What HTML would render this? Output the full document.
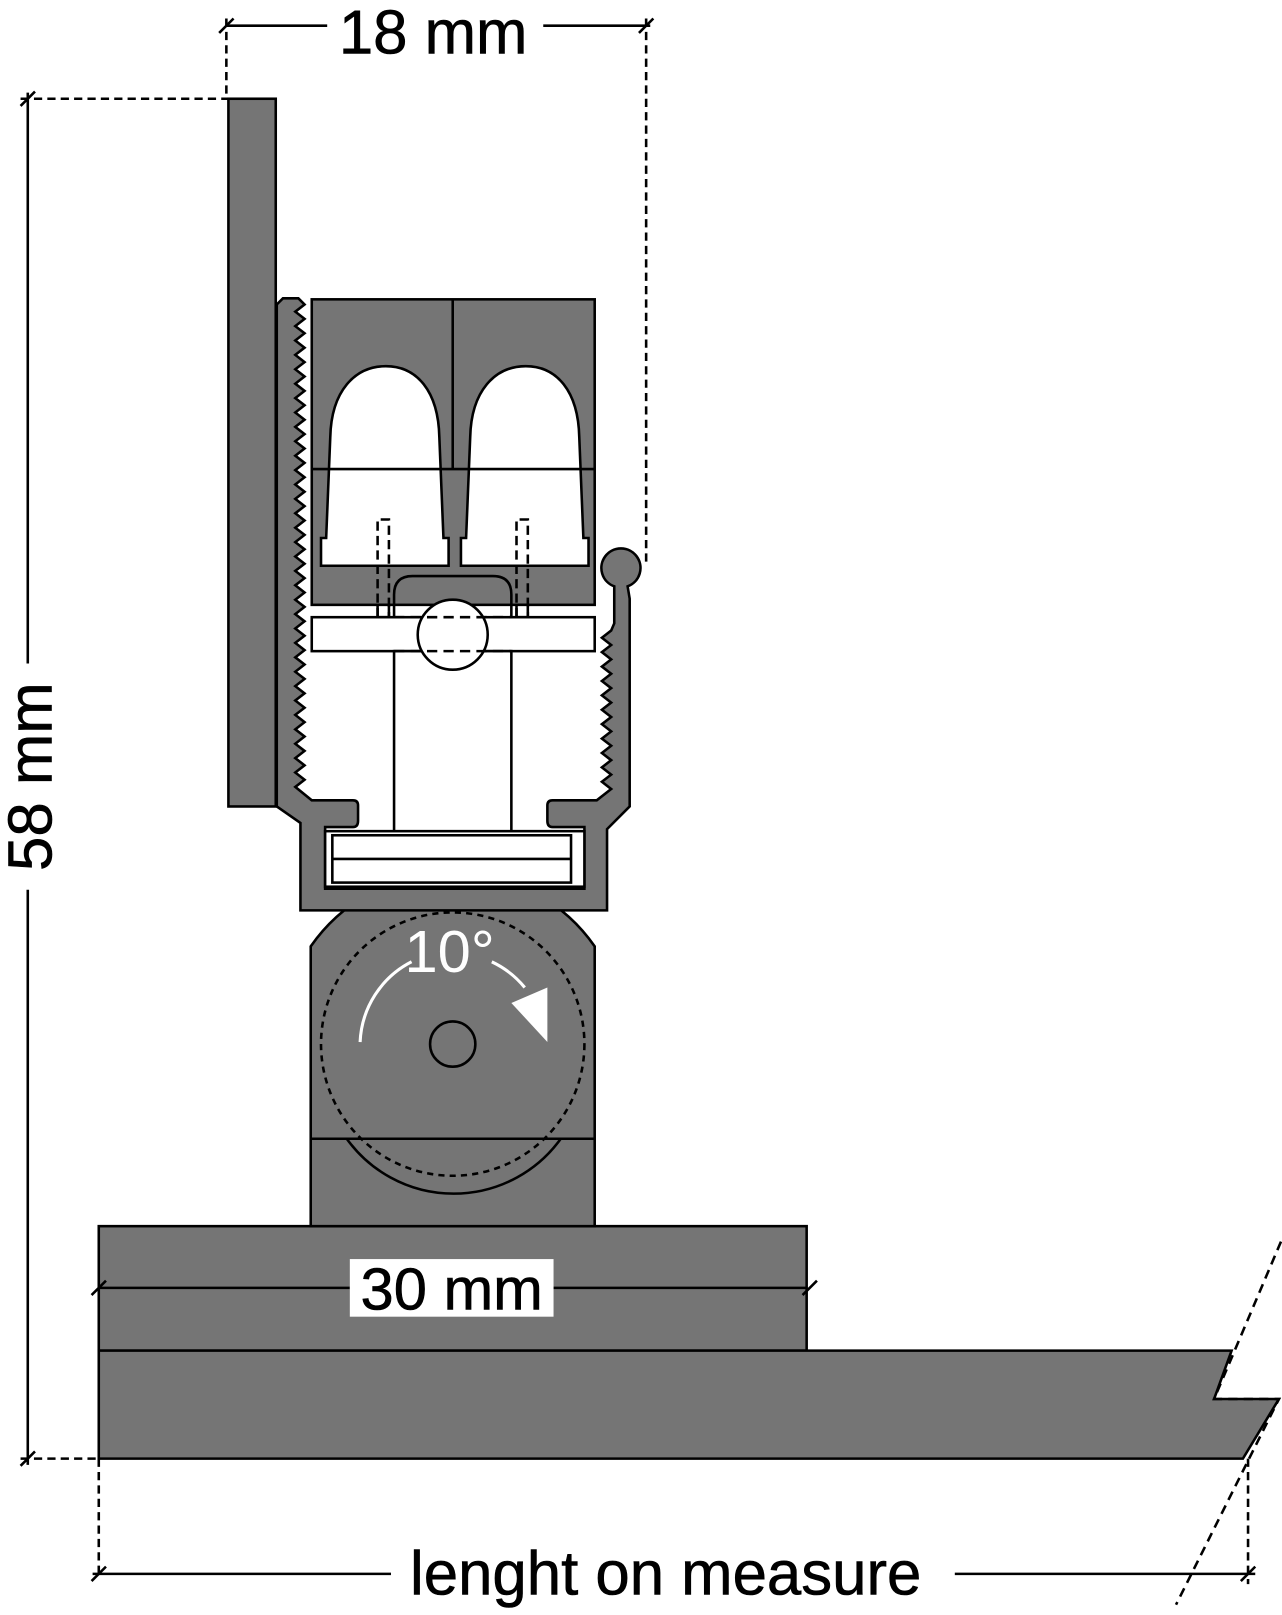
<!DOCTYPE html>
<html><head><meta charset="utf-8"><style>
html,body{margin:0;padding:0;background:#fff}
svg{display:block}
text{font-family:"Liberation Sans",Arial,sans-serif}
</style></head><body>
<svg width="1282" height="1615" viewBox="0 0 1246 1570" preserveAspectRatio="none" xmlns="http://www.w3.org/2000/svg">
<g stroke="#000" stroke-width="2.5" fill="none">
<line x1="220" y1="25" x2="318" y2="25"/><line x1="528" y1="25" x2="632" y2="25"/>
<line x1="213" y1="32" x2="227" y2="18"/><line x1="621" y1="32" x2="635" y2="18"/>
<line x1="220" y1="18" x2="220" y2="96" stroke-dasharray="8,5"/>
<line x1="628" y1="18" x2="628" y2="548" stroke-dasharray="8,5"/>
<line x1="27" y1="90" x2="27" y2="645"/><line x1="27" y1="865" x2="27" y2="1424"/>
<line x1="20" y1="103" x2="34" y2="89"/><line x1="20" y1="1425" x2="34" y2="1411"/>
<line x1="20" y1="96" x2="222" y2="96" stroke-dasharray="8,5"/>
<line x1="20" y1="1418" x2="96" y2="1418" stroke-dasharray="8,5"/>
<line x1="90" y1="1530" x2="380" y2="1530"/><line x1="928" y1="1530" x2="1220" y2="1530"/>
<line x1="89" y1="1537" x2="103" y2="1523"/><line x1="1206" y1="1537" x2="1220" y2="1523"/>
<line x1="96" y1="1418" x2="96" y2="1535" stroke-dasharray="8,5"/>
<line x1="1213" y1="1418" x2="1213" y2="1540" stroke-dasharray="8,5"/>
</g>
<text x="421" y="52" font-size="60" text-anchor="middle" stroke="#000" stroke-width="0.6">18 mm</text>
<text transform="translate(50,755) rotate(-90)" font-size="60" text-anchor="middle" stroke="#000" stroke-width="0.6">58 mm</text>
<text x="647" y="1550" font-size="60" text-anchor="middle" stroke="#000" stroke-width="0.6">lenght on measure</text>

<g stroke="#000" stroke-width="2.5" fill="#757575">
<rect x="222" y="96" width="46" height="688"/>
<rect x="96" y="1192" width="688" height="121"/>
<path d="M96,1313 L1197,1313 L1180,1360 L1243,1360 L1208,1418 L96,1418 Z"/>
<path d="M302,1192 L302,920 A168,168 0 0 1 578,920 L578,1192 Z"/>
<rect x="303" y="291" width="275" height="297"/>
<path d="M269,296 L275,290 L290,290 L296,296
L287,303 L296,310 L287,317 L296,324 L287,331 L296,338 L287,345 L296,352 L287,359 L296,366 L287,373 L296,380 L287,387 L296,394 L287,401 L296,408 L287,415 L296,422 L287,429 L296,436 L287,443 L296,450 L287,457 L296,464 L287,471 L296,478 L287,485 L296,492 L287,499 L296,506 L287,513 L296,520 L287,527 L296,534 L287,541 L296,548 L287,555 L296,562 L287,569 L296,576 L287,583 L296,590 L287,597 L296,604 L287,611 L296,618 L287,625 L296,632 L287,639 L296,646 L287,653 L296,660 L287,667 L296,674 L287,681 L296,688 L287,695 L296,702 L287,709 L296,716 L287,723 L296,730 L287,737 L296,744 L287,751 L296,758 L287,765
L303,778 L343,778 Q348,778 348,783 L348,798 Q348,804 343,804 L316,804 L316,864 L568,864 L568,804 L537,804 Q532,804 532,798 L532,783 Q532,778 537,778 L580,778 L594,767
L585,760 L594,753 L585,746 L594,739 L585,732 L594,725 L585,718 L594,711 L585,704 L594,697 L585,690 L594,683 L585,676 L594,669 L585,662 L594,655 L585,648 L594,641 L585,634 L594,627 L585,620 L594,613
L597,606 L597,570 A19,19 0 1 1 610,570 L612,582 L612,784 L590,806 L590,885 L292,885 L292,800 L269,784 Z"/>
</g>
<g stroke="#000" stroke-width="2.5" fill="#fff">
<path d="M312,550 L312,523 L317,523 L321,425 C322,380 345,356 375,356 C405,356 426,380 427,425 L431,523 L436,523 L436,550 Z"/>
<path d="M448,550 L448,523 L453,523 L457,425 C458,380 481,356 511,356 C541,356 562,380 563,425 L567,523 L572,523 L572,550 Z"/>
<rect x="367" y="588" width="11" height="12"/><rect x="502" y="588" width="11" height="12"/>
<rect x="303" y="600" width="275" height="33"/>
<rect x="383" y="633" width="114" height="177"/>
<circle cx="440" cy="617" r="34"/>
<rect x="316" y="808" width="252" height="54"/>
<rect x="323" y="812" width="232" height="46"/>
</g>
<g stroke="#000" stroke-width="2.5" fill="none">
<line x1="440" y1="291" x2="440" y2="456"/>
<line x1="303" y1="456" x2="578" y2="456"/>
<path d="M383,600 L383,578 Q383,560 401,560 L479,560 Q497,560 497,578 L497,600"/>
<path d="M367,600 L367,505 L378,505 L378,600 M502,600 L502,505 L513,505 L513,600" stroke-dasharray="9,5"/>
<path d="M383,600 L497,600 M383,633 L497,633" stroke-dasharray="10,6"/>
<line x1="323" y1="835" x2="555" y2="835"/>
<line x1="302" y1="1107" x2="578" y2="1107"/>
<path d="M337,1107 A128,128 0 0 0 545,1107"/>
<circle cx="440" cy="1015" r="128" stroke-dasharray="6,5"/>
<circle cx="440" cy="1015" r="22"/>
<line x1="96" y1="1252" x2="340" y2="1252"/><line x1="538" y1="1252" x2="784" y2="1252"/>
<line x1="89" y1="1259" x2="103" y2="1245"/><line x1="780" y1="1259" x2="794" y2="1245"/>
<path d="M1245,1207 L1180,1360 L1243,1360 L1143,1560" stroke-dasharray="9,6"/>
</g>
<path d="M350,1013 A92,92 0 0 1 400,935" stroke="#fff" stroke-width="3" fill="none"/>
<path d="M478,935 A92,92 0 0 1 510,960" stroke="#fff" stroke-width="3" fill="none"/>
<path d="M497,975 L532,960 L532,1013 Z" fill="#fff"/>
<text x="437" y="945" font-size="58" fill="#fff" text-anchor="middle">10°</text>
<rect x="340" y="1224" width="198" height="56" fill="#fff"/>
<text x="439" y="1273" font-size="58" text-anchor="middle" stroke="#000" stroke-width="0.6">30 mm</text>
</svg>
</body></html>
